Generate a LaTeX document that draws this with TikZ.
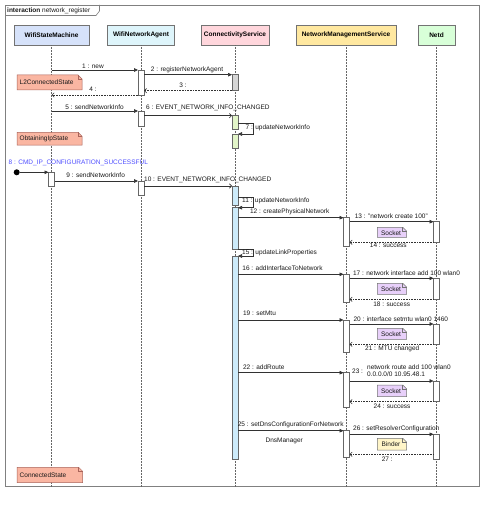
\documentclass[tikz,border=0pt]{standalone}
\usepackage{fontspec}
\setmainfont{Liberation Sans}
\usetikzlibrary{arrows.meta,shadows}
\definecolor{cWSM}{RGB}{214,226,250}
\definecolor{cWNA}{RGB}{222,245,251}
\definecolor{cCS}{RGB}{255,214,220}
\definecolor{cNMS}{RGB}{255,232,160}
\definecolor{cNETD}{RGB}{216,255,216}
\definecolor{cState}{RGB}{250,182,162}
\definecolor{cStateB}{RGB}{170,100,90}
\definecolor{cSock}{RGB}{232,208,250}
\definecolor{cBind}{RGB}{255,245,200}
\definecolor{cGreen}{RGB}{226,245,200}
\definecolor{cBlue}{RGB}{205,235,250}
\definecolor{cGrey}{RGB}{214,214,214}
\definecolor{cTxtBlue}{RGB}{80,80,255}
\definecolor{cLine}{RGB}{50,50,50}
\tikzset{
  lbl/.style={font=\fontsize{6.5}{7.5}\selectfont, inner sep=0.5pt, text=black!90},
  head/.style={draw=black!55, line width=0.6pt, minimum height=20pt, inner sep=1pt,
     font=\fontsize{6.5}{7.5}\selectfont\bfseries,
     drop shadow={shadow xshift=0.8pt, shadow yshift=-0.8pt, fill=black!35, opacity=0.6}},
  life/.style={draw=black!60, densely dotted, line width=0.5pt},
  act/.style={draw=black!60, line width=0.6pt, minimum width=6pt, inner sep=0pt, outer sep=0pt},
  msg/.style={draw=cLine, line width=0.6pt, -{Triangle[length=4pt,width=3.6pt]}},
  amsg/.style={draw=cLine, line width=0.6pt, -{Straight Barb[length=2.2pt,width=4.4pt]}},
  ret/.style={draw=cLine, line width=0.6pt, densely dotted, -{Straight Barb[length=2.2pt,width=4.4pt]}},
  notepen/.style={draw=black!55, line width=0.5pt},
  statepen/.style={draw=cStateB, line width=0.5pt},
}
% name, x1, y1, x2, y2, fill, text  (text left aligned)
\newcommand\statenote[7]{%
  \filldraw[statepen,fill=#6] (#2,#3) -- ({#4-4},#3) -- (#4,{#3+4}) -- (#4,#5) -- (#2,#5) -- cycle;
  \draw[statepen] ({#4-4},#3) -- ({#4-4},{#3+4}) -- (#4,{#3+4});
  \node[lbl,anchor=west] (#1) at ({#2+2},{(#3+#5)/2}) {#7};}
% name, x1, y1, x2, y2, fill, text (text centred)
\newcommand\objnote[7]{%
  \filldraw[notepen,fill=#6] (#2,#3) -- ({#4-4},#3) -- (#4,{#3+4}) -- (#4,#5) -- (#2,#5) -- cycle;
  \draw[notepen] ({#4-4},#3) -- ({#4-4},{#3+4}) -- (#4,{#3+4});
  \node[lbl] (#1) at ({(#2+#4)/2-1},{(#3+#5)/2+0.5}) {#7};}
% name, x, ytop, ybottom, fill
\newcommand\actbox[5]{%
  \node[act,fill=#5,minimum height={(#4-#3)*1pt},anchor=north] (#1) at (#2,#3) {};}
\begin{document}
\begin{tikzpicture}[x=1pt,y=-1pt]
\useasboundingbox[fill=white] (0,0) rectangle (500,508);
% frame
\draw[draw=black!50, line width=0.8pt] (5,5) rectangle (479.3,486.7);
\draw[draw=black!50, line width=0.6pt] (5,15.5) -- (96,15.5) -- (99.5,11) -- (99.5,5);
\node[lbl,anchor=west] (title) at (6.5,10.5) {\textbf{interaction} network\_register};
% heads
\node[head,fill=cWSM,minimum width=75pt] (wsm) at (51.5,35) {WifiStateMachine};
\node[head,fill=cWNA,minimum width=67pt] (wna) at (141,35) {WifiNetworkAgent};
\node[head,fill=cCS,minimum width=68pt] (cs) at (235,35) {ConnectivityService};
\node[head,fill=cNMS,minimum width=100pt] (nms) at (346,35) {NetworkManagementService};
\node[head,fill=cNETD,minimum width=37pt] (netd) at (436.5,35) {Netd};
% lifelines
\coordinate (bot) at (0,486.7);
\draw[life] (wsm.south) -- (wsm.south |- bot);
\draw[life] (wna.south) -- (wna.south |- bot);
\draw[life] (cs.south) -- (cs.south |- bot);
\draw[life] (nms.south) -- (nms.south |- bot);
\draw[life] (netd.south) -- (netd.south |- bot);
% activations
\actbox{wna1}{141}{70}{95}{white}
\actbox{cs1}{235}{74.7}{90.7}{cGrey}
\actbox{wna2}{141}{111}{126}{white}
\actbox{g1}{235}{115.7}{129.3}{cGreen}
\actbox{g2}{235}{134}{148.3}{cGreen}
\actbox{s1}{51.5}{172.3}{186.7}{white}
\actbox{wna3}{141}{181}{195}{white}
\actbox{b1}{235}{186}{205}{cBlue}
\actbox{b2}{235}{207.7}{249.3}{cBlue}
\actbox{b3}{235}{256}{459}{cBlue}
\actbox{n1}{346.5}{217.7}{246}{white}
\actbox{n2}{346.5}{274.3}{302.7}{white}
\actbox{n3}{346.5}{320}{352.3}{white}
\actbox{n4}{346.5}{372.7}{407.7}{white}
\actbox{n5}{346.5}{430.7}{457.3}{white}
\actbox{d1}{436.5}{221.7}{242.3}{white}
\actbox{d2}{436.5}{278.3}{299.3}{white}
\actbox{d3}{436.5}{324}{344.3}{white}
\actbox{d4}{436.5}{381}{401.7}{white}
\actbox{d5}{436.5}{434.3}{459}{white}
% messages
\draw[msg] (wsm.south |- wna1.north) -- (wna1.north west);
\node[lbl] (l1) at (93,66) {1 : new};
\draw[msg] (wna1.east |- cs1.north) -- (cs1.north west);
\node[lbl] (l2) at (187,70) {2 : registerNetworkAgent};
\draw[ret] (cs1.south west) -- (wna1.east |- cs1.south);
\node[lbl] (l3) at (183,85) {3 :};
\draw[ret] (wna1.south west) -- (wsm.south |- wna1.south);
\node[lbl] (l4) at (93,89) {4 :};
\draw[msg] (wsm.south |- wna2.north) -- (wna2.north west);
\node[lbl] (l5) at (94.5,106.7) {5 : sendNetworkInfo};
\draw[amsg] (wna2.east |- g1.north) -- (g1.north west);
\node[lbl,anchor=west] (l6) at (145.5,108.3) {6 : EVENT\_NETWORK\_INFO\_CHANGED};
\draw[msg] (g1.east |- 0,123.3) -- ++(15,0) |- (g2.north east);
\node[lbl,anchor=west] (l7) at (245,128.3) {7 : updateNetworkInfo};
% 8
\node[lbl,anchor=west,text=cTxtBlue] (l8) at (8,163.3) {8 : CMD\_IP\_CONFIGURATION\_SUCCESSFUL};
\node[circle,fill=black,inner sep=0pt,minimum size=6pt] (start) at (16.7,172.3) {};
\draw[msg] (start.east) -- (s1.north west);
\draw[msg] (s1.east |- wna3.north) -- (wna3.north west);
\node[lbl] (l9) at (95.7,175) {9 : sendNetworkInfo};
\draw[amsg] (wna3.east |- b1.north) -- (b1.north west);
\node[lbl,anchor=west] (l10) at (143.5,180) {10 : EVENT\_NETWORK\_INFO\_CHANGED};
\draw[msg] (b1.east |- 0,197.3) -- ++(15,0) |- (b2.north east);
\node[lbl,anchor=west] (l11) at (241.5,200.5) {11 : updateNetworkInfo};
\draw[msg] (b2.east |- n1.north) -- (n1.north west);
\node[lbl] (l12) at (289.7,212.3) {12 : createPhysicalNetwork};
\draw[msg] (n1.east |- d1.north) -- (d1.north west);
\node[lbl] (l13) at (391.3,215.7) {13 : "network create 100"};
\draw[ret] (d1.south west) -- (n1.east |- d1.south);
\node[lbl] (l14) at (388.3,245.7) {14 : success};
\draw[msg] (b2.south east) -- ++(15,0) |- (b3.north east);
\node[lbl,anchor=west] (l15) at (241.5,253.3) {15 : updateLinkProperties};
\draw[msg] (b3.east |- n2.north) -- (n2.north west);
\node[lbl] (l16) at (282.5,268.3) {16 : addInterfaceToNetwork};
\draw[msg] (n2.east |- d2.north) -- (d2.north west);
\node[lbl] (l17) at (406.5,273.3) {17 : network interface add 100 wlan0};
\draw[ret] (d2.south west) -- (n2.east |- d2.south);
\node[lbl] (l18) at (391.7,304) {18 : success};
\draw[msg] (b3.east |- n3.north) -- (n3.north west);
\node[lbl] (l19) at (259.5,313.3) {19 : setMtu};
\draw[msg] (n3.east |- d3.north) -- (d3.north west);
\node[lbl] (l20) at (400.8,319) {20 : interface setmtu wlan0 1460};
\draw[ret] (d3.south west) -- (n3.east |- d3.south);
\node[lbl] (l21) at (392.2,349.3) {21 : MTU changed};
\draw[msg] (b3.east |- n4.north) -- (n4.north west);
\node[lbl] (l22) at (263.8,366.7) {22 : addRoute};
\draw[msg] (n4.east |- d4.north) -- (d4.north west);
\node[lbl,anchor=west] (l23) at (351.5,371) {23 :};
\node[lbl,anchor=west,align=left] (l23b) at (366.5,370.7) {network route add 100 wlan0\\0.0.0.0/0 10.95.48.1};
\draw[ret] (d4.south west) -- (n4.east |- d4.south);
\node[lbl] (l24) at (392,406.7) {24 : success};
\draw[msg] (b3.east |- n5.north) -- (n5.north west);
\node[lbl] (l25) at (290.7,425.3) {25 : setDnsConfigurationForNetwork};
\node[lbl] (l25b) at (284.2,440.7) {DnsManager};
\draw[msg] (n5.east |- d5.north) -- (d5.north west);
\node[lbl] (l26) at (396.3,429) {26 : setResolverConfiguration};
\draw[ret] (d5.west |- 0,454.3) -- (n5.east |- 0,454.3);
\node[lbl] (l27) at (387.3,459.3) {27 :};
% notes
\statenote{st1}{17}{75}{82}{90}{cState}{L2ConnectedState}
\statenote{st2}{17}{132.3}{82}{145}{cState}{ObtainingIpState}
\statenote{st3}{17}{467.3}{82.7}{482.7}{cState}{ConnectedState}
\objnote{so1}{377.3}{227.3}{406.7}{237.3}{cSock}{Socket}
\objnote{so2}{377.3}{283.3}{406.7}{294.3}{cSock}{Socket}
\objnote{so3}{377.3}{328.3}{406.7}{339.3}{cSock}{Socket}
\objnote{so4}{377.3}{385}{406.7}{396.7}{cSock}{Socket}
\objnote{bi1}{377.3}{438.3}{406.7}{450}{cBind}{Binder}
\end{tikzpicture}
\end{document}
